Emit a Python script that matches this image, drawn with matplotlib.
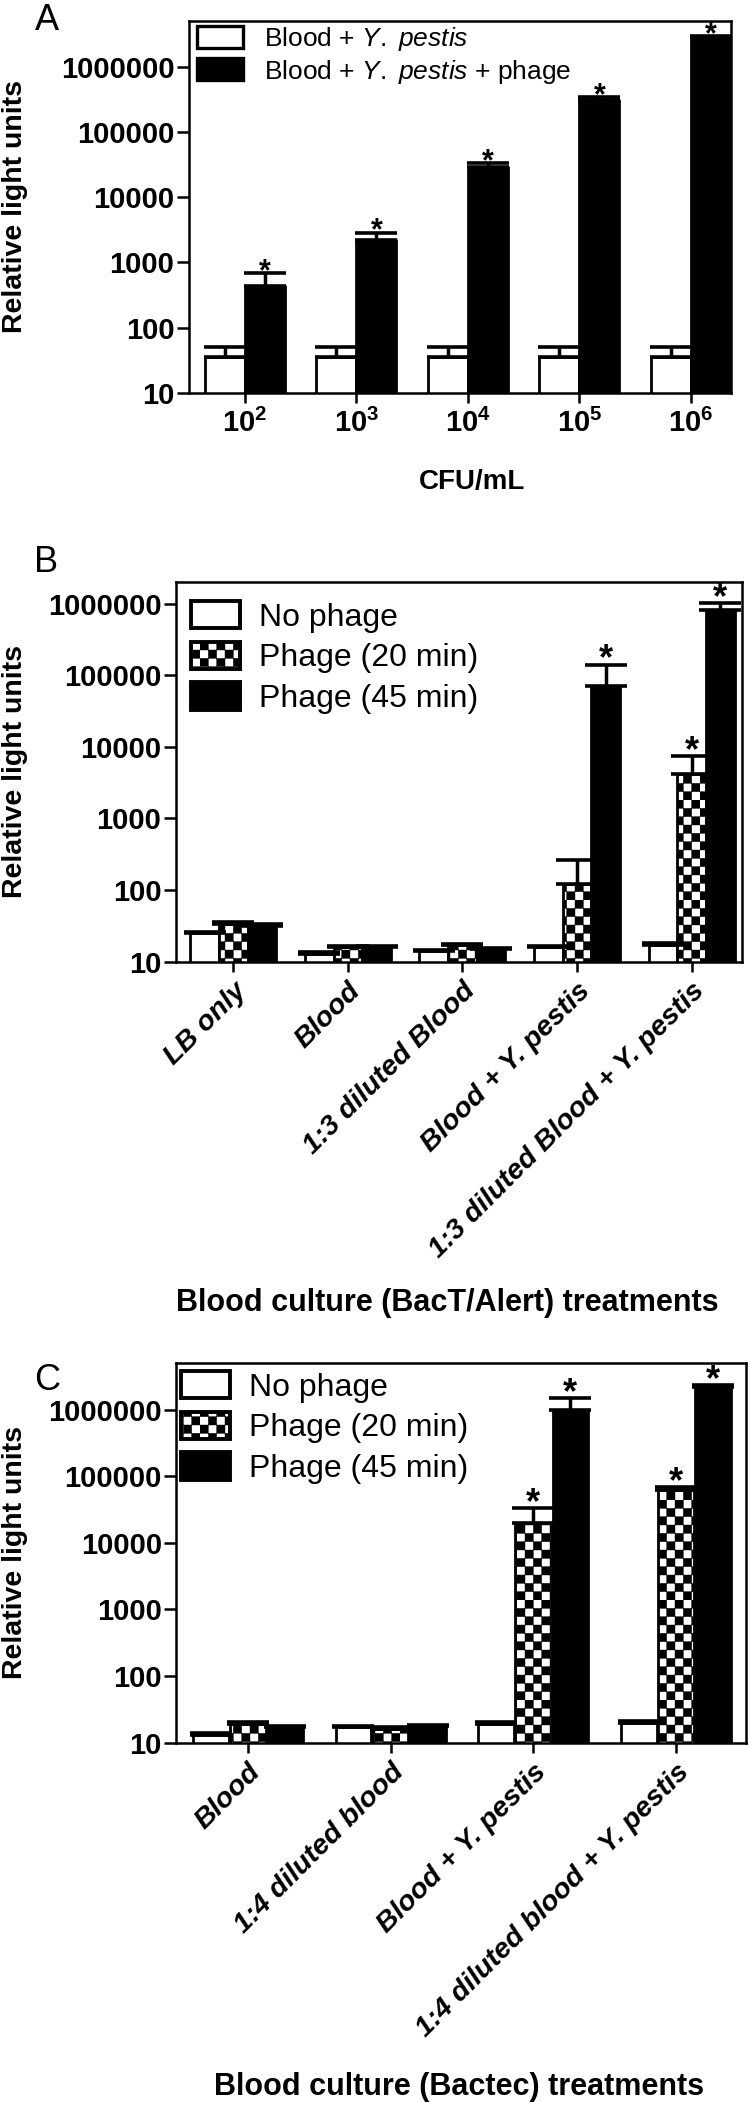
import warnings
import numpy as np
import matplotlib
matplotlib.use("Agg")
import matplotlib.pyplot as plt
import matplotlib.hatch as mhatch
from matplotlib.patches import Patch
from matplotlib.path import Path

warnings.filterwarnings("ignore")

# ---------------- data ----------------
# A: signal vs Y. pestis load in blood
cfu_ticks = [r"$\mathbf{10^{2}}$", r"$\mathbf{10^{3}}$", r"$\mathbf{10^{4}}$",
             r"$\mathbf{10^{5}}$", r"$\mathbf{10^{6}}$"]
a_blood = [35, 35, 35, 35, 35]
a_blood_err = [15, 15, 15, 15, 15]
a_phage = [430, 2200, 29000, 310000, 2800000]
a_phage_err = [250, 650, 4000, 30000, 150000]

# B: BacT/Alert blood culture
b_cats = ["LB only", "Blood", "1:3 diluted Blood", "Blood + Y. pestis",
          "1:3 diluted Blood + Y. pestis"]
b_none = [25, 13, 14, 16, 17]
b_none_err = [1, 0.5, 0.5, 0.5, 1.5]
b_p20 = [34, 16, 17, 120, 4200]
b_p20_err = [1.5, 0.5, 0.8, 140, 3200]
b_p45 = [32, 16, 15, 70000, 820000]
b_p45_err = [1.5, 0.5, 0.5, 71000, 200000]
b_sig20 = [False, False, False, False, True]
b_sig45 = [False, False, False, True, True]

# C: Bactec blood culture
c_cats = ["Blood", "1:4 diluted blood", "Blood + Y. pestis",
          "1:4 diluted blood + Y. pestis"]
c_none = [13, 17, 19, 20]
c_none_err = [1, 1, 1.5, 1.5]
c_p20 = [19, 16, 20000, 62000]
c_p20_err = [1.5, 1, 13000, 6000]
c_p45 = [17, 18, 1000000, 2200000]
c_p45_err = [1, 0.5, 500000, 150000]
c_sig20 = [False, False, True, True]
c_sig45 = [False, False, True, True]

yticks = [10, 100, 1000, 10000, 100000, 1000000]


# checkerboard fill ('c' in the hatch string)
class Checker(mhatch.HatchPatternBase):
    def __init__(self, hatch, density):
        self.n = 12 if "c" in hatch else 0
        self.num_vertices = (self.n * self.n // 2) * 5

    def set_vertices_and_codes(self, vertices, codes):
        s = 1.0 / self.n
        k = 0
        for i in range(self.n):
            for j in range(self.n):
                if (i + j) % 2 == 0:
                    x0, y0 = i * s, j * s
                    vertices[k:k + 5] = [[x0, y0], [x0 + s, y0], [x0 + s, y0 + s],
                                         [x0, y0 + s], [x0, y0]]
                    codes[k:k + 5] = [Path.MOVETO, Path.LINETO, Path.LINETO,
                                      Path.LINETO, Path.CLOSEPOLY]
                    k += 5


mhatch._hatch_types.append(Checker)

plt.rcParams["font.family"] = "Liberation Sans"
plt.rcParams["mathtext.fontset"] = "custom"
plt.rcParams["mathtext.rm"] = "Liberation Sans"
plt.rcParams["mathtext.it"] = "Liberation Sans:italic"
plt.rcParams["mathtext.bf"] = "Liberation Sans:bold"
plt.rcParams["hatch.linewidth"] = 0.3

LW = 2.0


def draw_bars(ax, x, vals, errs, width, face, hatch=None, sig=None,
              star_size=22, star_off=-5):
    ax.bar(x, vals, width, color=face, edgecolor="black", linewidth=LW,
           hatch=hatch, joinstyle="round", zorder=2)
    ax.errorbar(x, vals, yerr=[np.zeros(len(errs)), errs], fmt="none",
                ecolor="black", elinewidth=2.5, capsize=15, capthick=2.6, zorder=3)
    if sig is not None:
        for xi, v, e, s in zip(x, vals, errs, sig):
            if s:
                ax.annotate("*", (xi, v + e), xytext=(0, star_off),
                            textcoords="offset points", ha="center", va="baseline",
                            fontsize=star_size, fontweight="bold")


def style_axes(ax, ylim, xlim):
    ax.set_yscale("log")
    ax.set_ylim(*ylim)
    ax.set_xlim(*xlim)
    ax.set_yticks(yticks, [str(t) for t in yticks], fontweight="bold", fontsize=21)
    ax.minorticks_off()
    for s in ax.spines.values():
        s.set_linewidth(1.8)
    ax.tick_params(axis="y", length=8.5, width=1.8, pad=2)
    ax.tick_params(axis="x", length=7.5, width=1.8)
    ax.set_ylabel("Relative light units", fontsize=20.5, fontweight="bold", va="center")


fig = plt.figure(figsize=(7.5, 21.02), dpi=100)

# ---------------- panel A ----------------
axA = fig.add_axes([0.252, 0.81304, 0.7227, 0.17698])
xa = np.arange(len(a_blood))
draw_bars(axA, xa - 0.18, a_blood, a_blood_err, 0.36, "white")
draw_bars(axA, xa + 0.18, a_phage, a_phage_err, 0.36, "black",
          sig=[True] * len(a_phage), star_size=22, star_off=-5)
style_axes(axA, (10, 5e6), (-0.5, 4.36))
axA.set_xticks(xa, cfu_ticks, fontsize=21)
axA.tick_params(axis="x", pad=4)
axA.set_xlabel("CFU/mL", fontsize=20, fontweight="bold", va="center")
axA.xaxis.set_label_coords(0.522, -0.239)
axA.yaxis.set_label_coords(-0.321, 0.5)
axA.legend([Patch(facecolor="white", edgecolor="black", linewidth=2.4),
            Patch(facecolor="black", edgecolor="black", linewidth=2.4)],
           [r"Blood + $\mathit{Y.}$ $\mathit{pestis}$",
            r"Blood + $\mathit{Y.}$ $\mathit{pestis}$ + phage"],
           loc="upper left", bbox_to_anchor=(0.015, 0.989), frameon=False,
           borderpad=0, borderaxespad=0, fontsize=19, handlelength=1.74,
           handleheight=0.91, handletextpad=0.8, labelspacing=0.17)
fig.text(35 / 750, 1 - 30 / 2102, "A", fontsize=26, va="baseline")

# ---------------- panel B ----------------
axB = fig.add_axes([0.23467, 0.54248, 0.75467, 0.18064])
xb = np.arange(len(b_cats))
draw_bars(axB, xb - 0.25, b_none, b_none_err, 0.25, "white")
draw_bars(axB, xb, b_p20, b_p20_err, 0.25, "white", hatch="c", sig=b_sig20,
          star_size=26, star_off=-3.5)
draw_bars(axB, xb + 0.25, b_p45, b_p45_err, 0.25, "black", sig=b_sig45,
          star_size=26, star_off=-3.5)
style_axes(axB, (10, 2e6), (-0.5, 4.44))
axB.set_xticks(xb, b_cats, fontsize=20.5, fontweight="bold", fontstyle="italic",
               rotation=45, ha="right", rotation_mode="anchor")
axB.tick_params(axis="x", pad=4)
axB.set_xlabel("Blood culture (BacT/Alert) treatments", fontsize=22,
               fontweight="bold", va="center")
axB.xaxis.set_label_coords(0.479, -0.899)
axB.yaxis.set_label_coords(-0.2845, 0.5)
legend_handles = [Patch(facecolor="white", edgecolor="black", linewidth=2.8),
                  Patch(facecolor="white", edgecolor="black", linewidth=2.8, hatch="c"),
                  Patch(facecolor="black", edgecolor="black", linewidth=2.8)]
legend_labels = ["No phage", "Phage (20 min)", "Phage (45 min)"]
axB.legend(legend_handles, legend_labels, loc="upper left",
           bbox_to_anchor=(0.0265, 0.950), frameon=False, borderpad=0,
           borderaxespad=0, fontsize=23, handlelength=1.54, handleheight=0.94,
           handletextpad=0.6, labelspacing=0.28)
fig.text(34 / 750, 1 - 572 / 2102, "B", fontsize=26, va="baseline")

# ---------------- panel C ----------------
axC = fig.add_axes([0.23533, 0.17093, 0.75933, 0.18064])
xc = np.arange(len(c_cats))
draw_bars(axC, xc - 0.26, c_none, c_none_err, 0.25, "white")
draw_bars(axC, xc, c_p20, c_p20_err, 0.25, "white", hatch="c", sig=c_sig20,
          star_size=26, star_off=-3.5)
draw_bars(axC, xc + 0.26, c_p45, c_p45_err, 0.25, "black", sig=c_sig45,
          star_size=26, star_off=-3.5)
style_axes(axC, (10, 5e6), (-0.5, 3.49))
axC.set_xticks(xc, c_cats, fontsize=20.5, fontweight="bold", fontstyle="italic",
               rotation=45, ha="right", rotation_mode="anchor")
axC.tick_params(axis="x", pad=4)
axC.set_xlabel("Blood culture (Bactec) treatments", fontsize=22,
               fontweight="bold", va="center")
axC.xaxis.set_label_coords(0.496, -0.907)
axC.yaxis.set_label_coords(-0.2836, 0.5)
axC.legend(legend_handles, legend_labels, loc="upper left",
           bbox_to_anchor=(0.008, 0.979), frameon=False, borderpad=0,
           borderaxespad=0, fontsize=23, handlelength=1.54, handleheight=0.94,
           handletextpad=0.6, labelspacing=0.28)
fig.text(34 / 750, 1 - 1390 / 2102, "C", fontsize=26, va="baseline")

fig.savefig("out.png", dpi=100)
